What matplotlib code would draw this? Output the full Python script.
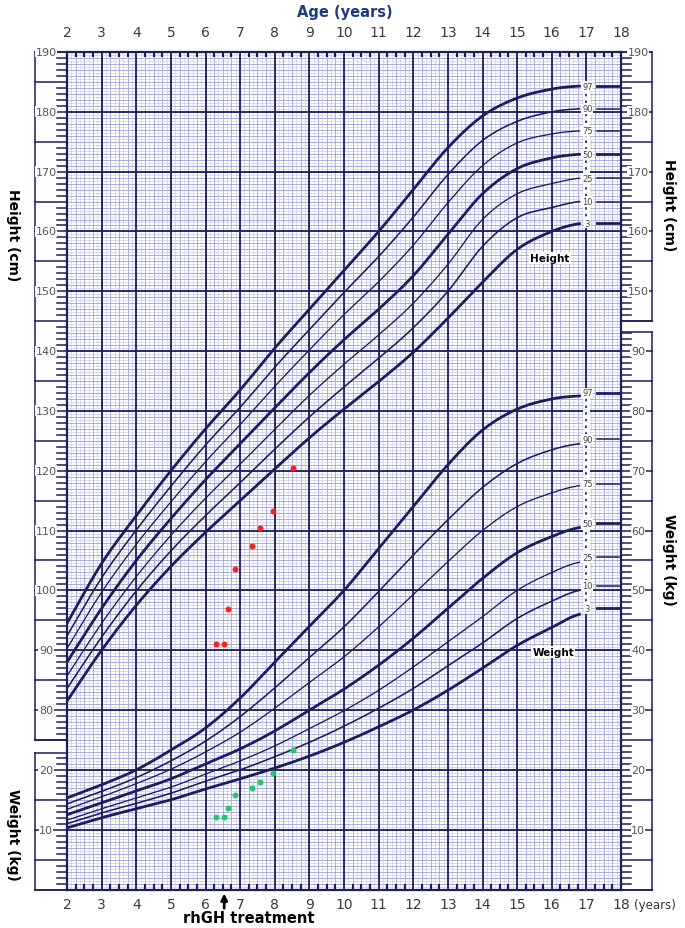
import numpy as np
import matplotlib.pyplot as plt
from matplotlib.patches import Rectangle

# Percentile curves (boys)
ages = [2, 3, 4, 5, 6, 7, 8, 9, 10, 11, 12, 13, 14, 15, 16, 16.8]
percentiles = [3, 10, 25, 50, 75, 90, 97]

height_p3 = [81.5, 90.0, 97.5, 104.0, 109.7, 115.0, 120.3, 125.5, 130.3, 134.9, 139.8, 145.5, 151.5, 157.0, 160.0, 161.3]
height_p10 = [83.6, 92.2, 99.9, 106.6, 112.5, 118.0, 123.6, 129.0, 134.0, 138.8, 143.9, 150.0, 157.5, 162.3, 164.0, 165.0]
height_p25 = [85.7, 94.5, 102.3, 109.2, 115.4, 121.1, 126.9, 132.6, 137.8, 142.7, 148.0, 154.5, 162.0, 166.3, 168.0, 168.9]
height_p50 = [88.0, 97.0, 105.0, 112.0, 118.5, 124.5, 130.5, 136.4, 141.9, 147.0, 152.6, 159.5, 166.3, 170.5, 172.3, 172.9]
height_p75 = [90.3, 99.7, 107.7, 114.8, 121.5, 127.7, 134.1, 140.2, 146.1, 151.6, 157.7, 164.8, 171.0, 174.8, 176.3, 176.8]
height_p90 = [92.4, 102.1, 110.1, 117.4, 124.3, 130.6, 137.3, 143.6, 149.8, 155.8, 162.4, 169.5, 175.2, 178.4, 180.0, 180.5]
height_p97 = [94.5, 104.5, 112.5, 120.0, 127.0, 133.5, 140.5, 147.0, 153.5, 160.0, 167.0, 174.0, 179.3, 182.3, 183.8, 184.3]
height_end = [161.4, 165.0, 168.9, 172.9, 176.8, 180.5, 184.3]

weight_p3 = [10.3, 12.0, 13.5, 15.0, 16.8, 18.5, 20.3, 22.3, 24.6, 27.2, 30.0, 33.3, 37.0, 40.8, 43.8, 46.0]
weight_p10 = [11.0, 12.8, 14.4, 16.1, 18.1, 20.0, 22.2, 24.6, 27.3, 30.3, 33.6, 37.4, 41.2, 45.3, 48.2, 50.0]
weight_p25 = [11.6, 13.5, 15.3, 17.1, 19.3, 21.5, 24.0, 26.9, 29.9, 33.3, 37.2, 41.4, 45.6, 50.0, 53.0, 54.7]
weight_p50 = [12.5, 14.5, 16.5, 18.5, 21.0, 23.5, 26.5, 30.0, 33.5, 37.5, 42.0, 47.0, 52.0, 56.3, 59.0, 60.5]
weight_p75 = [13.4, 15.5, 17.7, 20.1, 23.0, 26.3, 30.3, 34.6, 38.9, 43.9, 49.3, 54.8, 60.0, 64.0, 66.3, 67.5]
weight_p90 = [14.3, 16.4, 18.7, 21.5, 24.8, 28.9, 33.7, 38.8, 43.9, 49.8, 55.9, 61.8, 67.2, 71.2, 73.5, 74.5]
weight_p97 = [15.3, 17.5, 20.0, 23.3, 27.0, 32.0, 38.0, 44.0, 50.0, 57.0, 64.0, 71.0, 76.8, 80.3, 82.0, 82.5]
weight_end = [47.0, 50.8, 55.5, 61.2, 67.8, 75.3, 83.0]

# Patient visits
visit_age = [6.29, 6.54, 6.64, 6.85, 7.33, 7.58, 7.96, 8.54]
visit_height = [91.0, 91.0, 96.9, 103.6, 107.4, 110.4, 113.3, 120.4]
visit_weight = [12.2, 12.2, 13.6, 15.8, 16.9, 17.9, 19.4, 23.3]
treatment_age = 6.54

height_curves = [height_p3, height_p10, height_p25, height_p50, height_p75, height_p90, height_p97]
weight_curves = [weight_p3, weight_p10, weight_p25, weight_p50, weight_p75, weight_p90, weight_p97]

W0 = 50  # weight 0 kg sits on the 50 cm line of the shared grid
navy = "#1c1c5e"
mid = "#9a9ad6"
light = "#cacaf0"


def smooth(x, y, n=300):
    # cubic hermite through the read points (centred slopes), only for drawing
    x = np.asarray(x, float)
    y = np.asarray(y, float)
    h = np.diff(x)
    m = np.empty_like(y)
    m[1:-1] = (y[2:] - y[:-2]) / (x[2:] - x[:-2])
    m[0] = (y[1] - y[0]) / h[0]
    m[-1] = 0.5 * (y[-1] - y[-2]) / h[-1]
    xs = np.linspace(x[0], x[-1], n)
    i = np.clip(np.searchsorted(x, xs) - 1, 0, len(h) - 1)
    t = (xs - x[i]) / h[i]
    ys = ((2 * t**3 - 3 * t**2 + 1) * y[i] + (t**3 - 2 * t**2 + t) * h[i] * m[i]
          + (-2 * t**3 + 3 * t**2) * y[i + 1] + (t**3 - t**2) * h[i] * m[i + 1])
    return xs, ys


fig = plt.figure(figsize=(6.85, 9.29), dpi=100)
ax = fig.add_axes([67 / 685, 38.5 / 929, 554 / 685, 837.5 / 929])
ax.set_xlim(2, 18)
ax.set_ylim(50, 190)
ax.set_xticks([])
ax.set_yticks([])
for s in ax.spines.values():
    s.set_color(navy)
    s.set_linewidth(1.6)

# graph paper
ax.vlines(np.arange(2, 18.001, 0.125), 50, 190, colors=light, lw=0.45, zorder=1)
ax.vlines(np.arange(2, 18.001, 0.25), 50, 190, colors=mid, lw=0.5, zorder=1)
ax.vlines(np.arange(2, 19), 50, 190, colors=navy, lw=1.3, zorder=2)
ax.hlines(np.arange(50, 190.01, 0.5), 2, 18, colors=light, lw=0.45, zorder=1)
ax.hlines(np.arange(50, 191), 2, 18, colors=mid, lw=0.5, zorder=1)
ax.hlines(np.arange(50, 191, 10), 2, 18, colors=navy, lw=1.3, zorder=2)

# quarter-year ticks on top and bottom
for q in np.arange(2, 18, 0.25):
    if q % 1:
        ax.plot([q, q], [190, 189.1], color=navy, lw=1.6, zorder=3, solid_capstyle="butt")
        ax.plot([q, q], [50, 50.9], color=navy, lw=1.6, zorder=3, solid_capstyle="butt")

# percentile curves
for p, hc, wc in zip(percentiles, height_curves, weight_curves):
    lw = 2.0 if p in (3, 50, 97) else (1.15 if p in (10, 90) else 0.95)
    xs, ys = smooth(ages, hc)
    ax.plot(xs, ys, color=navy, lw=lw, zorder=5)
    xs, ys = smooth(ages, wc)
    ax.plot(xs, ys + W0, color=navy, lw=lw, zorder=5)

# percentile labels near 17 years with the short end segments
for ends, off in ((height_end, 0), (weight_end, W0)):
    y_lo, y_hi = ends[0] + off, ends[-1] + off
    ax.add_patch(Rectangle((16.9, y_lo), 0.2, y_hi - y_lo, fc="white", ec="none", zorder=4))
    ax.plot([17, 17], [y_lo, y_hi], color=navy, lw=1.2, ls=(0, (1.5, 2.5)), zorder=4.5)
    for p, v in zip(percentiles, ends):
        lw = 2.0 if p in (3, 50, 97) else 1.1
        ax.plot([17.3, 17.95], [v + off, v + off], color=navy, lw=lw, zorder=5)
        ax.text(17.03, v + off, str(p), fontsize=6, color="#444444", ha="center", va="center",
                zorder=7, bbox=dict(fc="white", ec="none", pad=0.5))

ax.text(15.95, 155.6, "Height", fontsize=7.5, fontweight="bold", ha="center", va="center",
        zorder=7, bbox=dict(fc="white", ec="none", pad=0.6))
ax.text(16.04, 39.7 + W0, "Weight", fontsize=7.5, fontweight="bold", ha="center", va="center",
        zorder=7, bbox=dict(fc="white", ec="none", pad=0.6))

# patient data
ax.plot(visit_age, visit_height, "o", color="#ff1f1f", ms=4.3, mec="none", zorder=8)
ax.plot(visit_age, np.array(visit_weight) + W0, "o", color="#22c86e", ms=4.3, mec="none", zorder=8)

# side scales drawn as ruler boxes outside the grid
xl_box, xl_tick, xl_lab = 2 - 32 / 34.625, 2 - 10 / 34.625, 2 - 21 / 34.625
xr_box, xr_tick, xr_lab = 18 + 31 / 34.625, 18 + 10 / 34.625, 18 + 17 / 34.625
kw = dict(color=navy, lw=1.1, clip_on=False, zorder=3)
lab = dict(fontsize=8, color="#555555", va="center", ha="center", clip_on=False, zorder=6,
           bbox=dict(fc="white", ec="none", pad=0.3))


def ruler(lo, hi, xbox, xtick, xlab, edge, labels, offset):
    ax.plot([xbox, xbox], [lo, hi], **kw)
    ax.plot([xbox, edge], [lo, lo], **kw)
    ax.plot([xbox, edge], [hi, hi], **kw)
    for v in range(int(np.ceil(lo)), int(hi) + 1):
        if v % 5 == 0:
            ax.plot([xbox, edge], [v, v], **kw)
        else:
            ax.plot([xtick, edge], [v, v], **kw)
    for v in labels:
        ax.text(xlab, v + offset, str(v), **lab)


ruler(75, 190, xl_box, xl_tick, xl_lab, 2, range(80, 191, 10), 0)
ruler(50, 72.8, xl_box, xl_tick, xl_lab, 2, [10, 20], W0)
ruler(145, 190, xr_box, xr_tick, xr_lab, 18, range(150, 191, 10), 0)
ruler(50, 143.2, xr_box, xr_tick, xr_lab, 18, range(10, 91, 10), W0)

# age labels
for a in range(2, 19):
    ax.text(a, 193.35, str(a), fontsize=10, color="#3a3a3a", ha="center", va="center", clip_on=False)
    ax.text(a, 47.55, str(a), fontsize=10, color="#3a3a3a", ha="center", va="center", clip_on=False)
ax.text(18.38, 47.55, "(years)", fontsize=8.5, color="#333333", ha="left",
        va="center", clip_on=False)

fig.text(345 / 685, 1 - 13 / 929, "Age (years)", fontsize=10.5, fontweight="bold", color="#203a80",
         ha="center", va="center")
fig.text(249 / 685, 1 - 919 / 929, "rhGH treatment", fontsize=10.5, fontweight="bold", color="black",
         ha="center", va="center")
ax.annotate("", xy=(treatment_age, 49.8), xytext=(treatment_age, 46.4), annotation_clip=False,
            arrowprops=dict(arrowstyle="-|>", color="black", lw=2, mutation_scale=9))

for x, y, t in ((13, 235, "Height (cm)"), (13, 835, "Weight (kg)"),
                (669, 205, "Height (cm)"), (669, 560, "Weight (kg)")):
    fig.text(x / 685, 1 - y / 929, t, fontsize=10, fontweight="bold", rotation=270,
             ha="center", va="center")

fig.savefig("out.png", dpi=100)
